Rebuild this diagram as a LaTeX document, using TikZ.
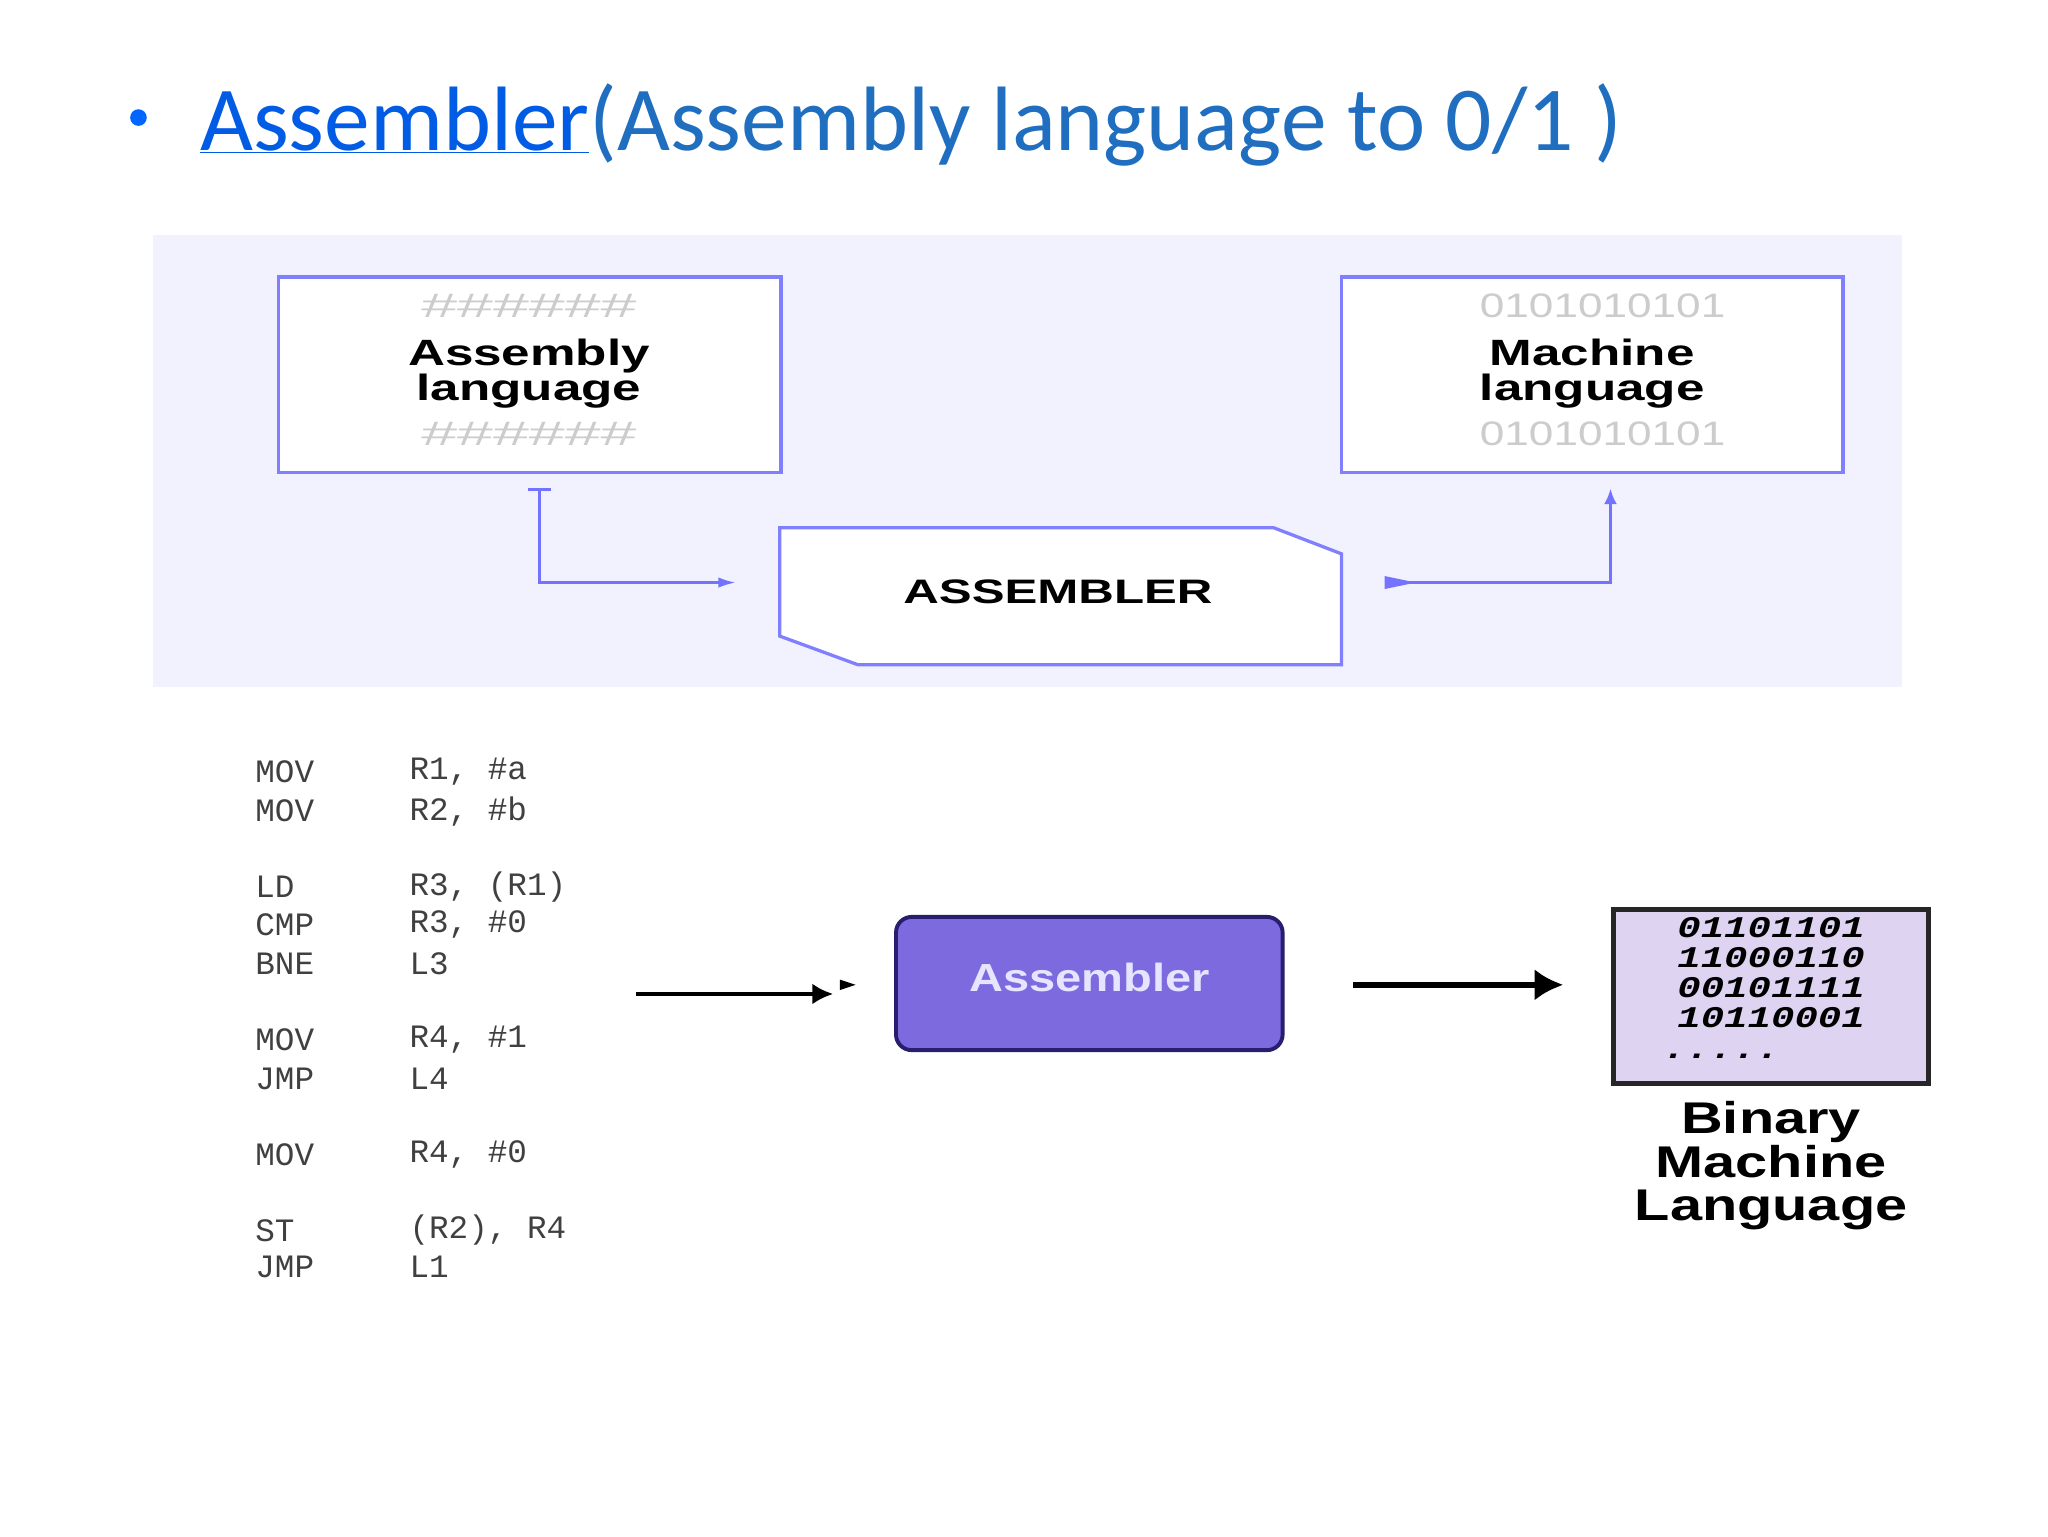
\documentclass[tikz,border=0pt]{standalone}
\usepackage{fontspec}
\usetikzlibrary{arrows.meta}
\setmainfont{Carlito}
\newfontfamily\wide{Liberation Sans}
\newfontfamily\mono{Liberation Mono}
\newcommand{\wx}[2]{\scalebox{#1}[1]{\begin{tabular}{@{}c@{}}#2\end{tabular}}}
\begin{document}
\begin{tikzpicture}[x=1pt,y=-1pt,
  lbox/.style={draw=blue!50,line width=2.5pt,fill=white},
  larr/.style={draw=blue!55,line width=2.5pt},
  widet/.style={font=\wide\bfseries\fontsize{28}{30}\selectfont,align=center},
  hsh/.style={font=\wide\fontsize{26}{26}\selectfont,text=gray!40},
  code/.style={font=\mono\fontsize{25}{25}\selectfont,text=black!75,anchor=west},
  bin/.style={font=\mono\bfseries\itshape\fontsize{23}{23}\selectfont,anchor=center}]
\useasboundingbox (0,0) rectangle (1568,1176);
\fill[white] (0,0) rectangle (1568,1176);
% title
\node[fill=blue!60!cyan,circle,inner sep=4.5pt] (bul) at (106,90) {};
\node[anchor=base west,font=\fontsize{70}{70}\selectfont,text={rgb,255:red,31;green,110;blue,192},inner sep=0] (title) at (153,115)
 {\textcolor{blue!60!cyan!90!black}{\underline{Assembler}}(Assembly language to 0/1 )};
% upper panel
\fill[blue!5] (117,180) rectangle (1456,526);
\node[lbox,minimum width=385pt,minimum height=150pt] (al) at (405.5,287) {};
\node[lbox,minimum width=384pt,minimum height=150pt] (ml) at (1219,287) {};
\node[hsh] (h1) at (405,238) {\wx{1.9}{\#\#\#\#\#\#}};
\node[hsh] (h2) at (405,336) {\wx{1.9}{\#\#\#\#\#\#}};
\node[widet] (alt) at (405,287) {\wx{1.4}{Assembly\\[-3pt]language}};
\node[hsh] (b1) at (1227,238) {\wx{1.3}{0101010101}};
\node[hsh] (b2) at (1227,336) {\wx{1.3}{0101010101}};
\node[widet] (mlt) at (1219,287) {\wx{1.4}{Machine\\[-3pt]language}};
\draw[lbox] (597,404) -- (975,404) -- (1027,424) -- (1027,509) -- (657,509) -- (597,487) -- cycle;
\node[widet,font=\wide\bfseries\fontsize{26}{26}\selectfont] (asm) at (810,457) {\wx{1.45}{ASSEMBLER}};
\coordinate (p1) at (413,375); \coordinate (p2) at (413,446); \coordinate (p3) at (564,446);
\draw[larr,-{Latex[length=14pt,width=8pt]}] (p1) -- (p2) -- (p3);
\draw[larr] (404,375) -- (422,375);
\coordinate (q1) at (1060,446); \coordinate (q2) at (1233,446); \coordinate (q3) at (1233,374);
\draw[larr,-{Latex[length=12pt,width=10pt]}] (q1) -- (q2) -- (q3);
\fill[blue!55] (1060,441) -- (1084,446) -- (1060,451) -- cycle;
% code
\foreach \y/\a/\b in {591/MOV/{R1, \#a},621/MOV/{R2, \#b},679/LD/{R3, (R1)},708/CMP/{R3, \#0},738/BNE/L3,796/MOV/{R4, \#1},826/JMP/L4,884/MOV/{R4, \#0},942/ST/{(R2), R4},970/JMP/L1}{
  \node[code] at (192,\y) {\a};
  \node[code] at (310,\y) {\b};
}
% lower diagram
\coordinate (a1) at (487,761); \coordinate (a2) at (638,761);
\draw[line width=3.5pt,-{Latex[length=16pt,width=16pt]}] (a1) -- (a2);
\fill (643,750) -- (655,754) -- (643,758) -- cycle;
\node[draw={rgb,255:red,40;green,30;blue,110},line width=3pt,fill={rgb,255:red,124;green,106;blue,222},rounded corners=12pt,minimum width=296pt,minimum height=102pt,text=blue!10,font=\wide\bfseries\fontsize{30}{30}\selectfont] (ab) at (834,753) {\wx{1.2}{Assembler}};
\coordinate (c1) at (1036,754); \coordinate (c2) at (1197,754);
\draw[line width=5pt,-{Latex[length=22pt,width=24pt]}] (c1) -- (c2);
\node[draw=black!85,line width=4pt,fill={rgb,255:red,222;green,212;blue,242},minimum width=241pt,minimum height=133pt] (bm) at (1356,763) {};
\node[bin] at (1356,713) {\wx{1.3}{01101101}};
\node[bin] at (1356,736) {\wx{1.3}{11000110}};
\node[bin] at (1356,759) {\wx{1.3}{00101111}};
\node[bin] at (1356,782) {\wx{1.3}{10110001}};
\node[bin] at (1318,806) {\wx{1.3}{.....}};
\node[font=\wide\bfseries\fontsize{34}{34}\selectfont,align=center] (bml) at (1356,894) {\wx{1.3}{Binary\\[-1pt]Machine\\[-1pt]Language}};
\end{tikzpicture}
\end{document}
